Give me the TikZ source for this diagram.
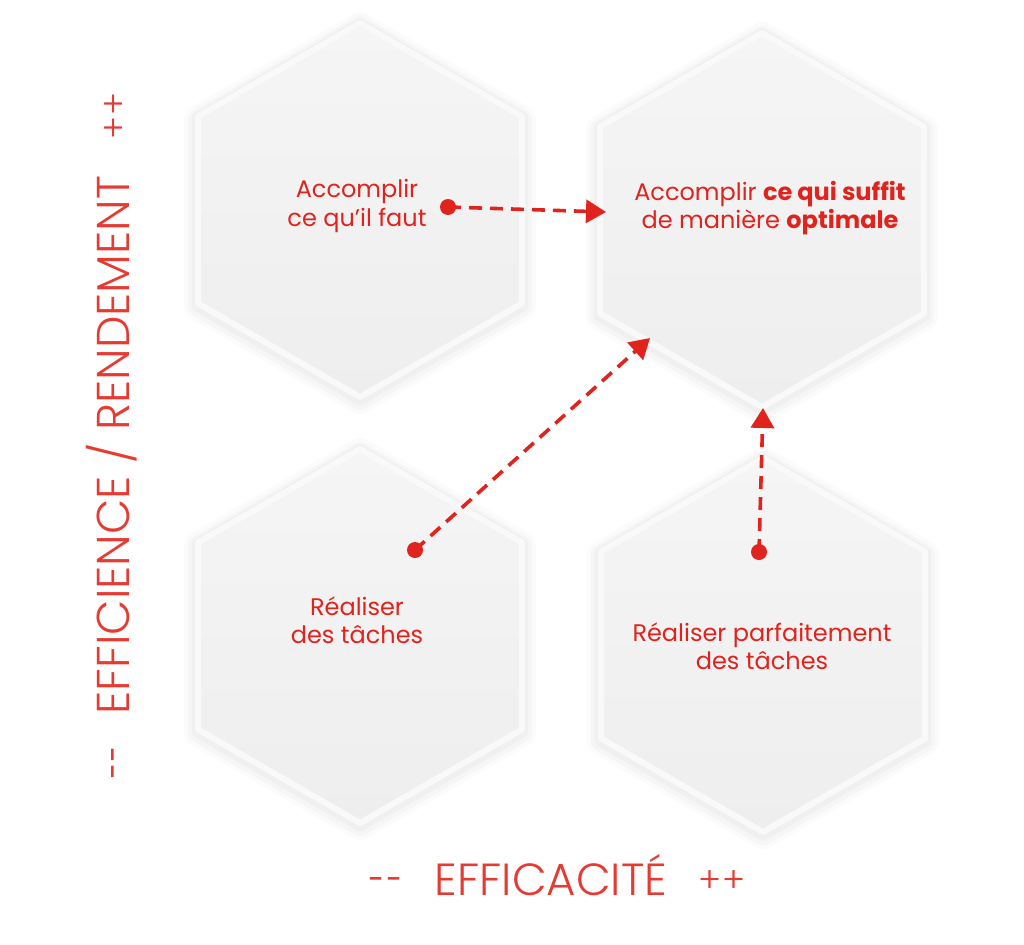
\documentclass[tikz,border=0pt]{standalone}
\usepackage{fontspec}
\setmainfont{Poppins}
\newfontfamily\thinfont{Poppins}[UprightFont=* Light]
\usetikzlibrary{shapes.geometric,arrows.meta}
\definecolor{hred}{HTML}{E0231C}
\definecolor{axred}{HTML}{E63B32}
\definecolor{hexborder}{HTML}{F9F9F9}
\definecolor{hextop}{HTML}{F5F5F5}
\definecolor{hexbot}{HTML}{EEEEEE}
\tikzset{
  hexbox/.style={regular polygon, regular polygon sides=6, shape border rotate=30,
    minimum size=374pt, inner sep=0pt, top color=hextop, bottom color=hexbot,
    draw=hexborder, line width=6pt, line join=round,
    preaction={draw=black, opacity=0.015, line width=28pt, line join=round, transform canvas={yshift=-3pt}},
    preaction={draw=black, opacity=0.02, line width=20pt, line join=round, transform canvas={yshift=-3pt}},
    preaction={draw=black, opacity=0.025, line width=13pt, line join=round, transform canvas={yshift=-2pt}}},
  hextext/.style={text=hred, font=\fontsize{24pt}{28.5pt}\selectfont, align=center, inner sep=0pt},
  axtext/.style={text=axred, font=\thinfont\fontsize{45pt}{48pt}\selectfont, inner sep=0pt, anchor=base},
  dotmark/.style={circle, fill=hred, inner sep=0pt, minimum size=16pt},
  flow/.style={draw=hred, line width=3.6pt, dash pattern=on 13pt off 8pt,
    -{Triangle[length=20pt,width=23pt]}, shorten <=0pt}
}
\newcommand{\oneminus}{\scalebox{0.65}[1]{-}}
\newcommand{\oneplus}{\raisebox{3pt}{\scalebox{0.78}{+}}}
\newcommand{\twominus}{\oneminus\kern2pt\oneminus}
\newcommand{\twoplus}{\oneplus\kern1.5pt\oneplus}
\begin{document}
\begin{tikzpicture}[x=1pt,y=-1pt]
\useasboundingbox (0,0) rectangle (1024,944);
\fill[white] (0,0) rectangle (1024,944);
% hexagons
\node[hexbox] (tl) at (360,210) {};
\node[hexbox] (tr) at (762,220) {};
\node[hexbox] (bl) at (360,636) {};
\node[hexbox] (br) at (763,645) {};
% texts
\node[hextext] (tltext) at (357,206) {Accomplir\\ce qu’il faut};
\node[hextext] (trtext) at (770,208) {Accomplir \textbf{ce qui suffit}\\de manière \textbf{optimale}};
\node[hextext] (bltext) at (357,620) {Réaliser\\des tâches};
\node[hextext] (brtext) at (762,646) {Réaliser parfaitement\\des tâches};
% dots and arrow ends
\node[dotmark] (d1) at (448,207) {};
\node[dotmark] (d2) at (415,550) {};
\node[dotmark] (d3) at (759,552) {};
\coordinate (e1) at (606,212);
\coordinate (e2) at (650,338);
\coordinate (e3) at (763,408);
\draw[flow] (d1.center) -- (e1);
\draw[flow] (d2.center) -- (e2);
\draw[flow] (d3.center) -- (e3);
% axes
\node[axtext] (xminus) at (386,895) {\twominus};
\node[axtext] (xlabel) at (551,895) {EFFICACITÉ};
\node[axtext] (xplus) at (722,895) {\twoplus};
\node[axtext, font=\thinfont\fontsize{46pt}{50pt}\selectfont, rotate=90] (ylabel) at (129,445) {EFFICIENCE / RENDEMENT};
\node[axtext, rotate=90] (yplus) at (129,116) {\twoplus};
\node[axtext, rotate=90] (yminus) at (129,762) {\twominus};
\end{tikzpicture}
\end{document}
